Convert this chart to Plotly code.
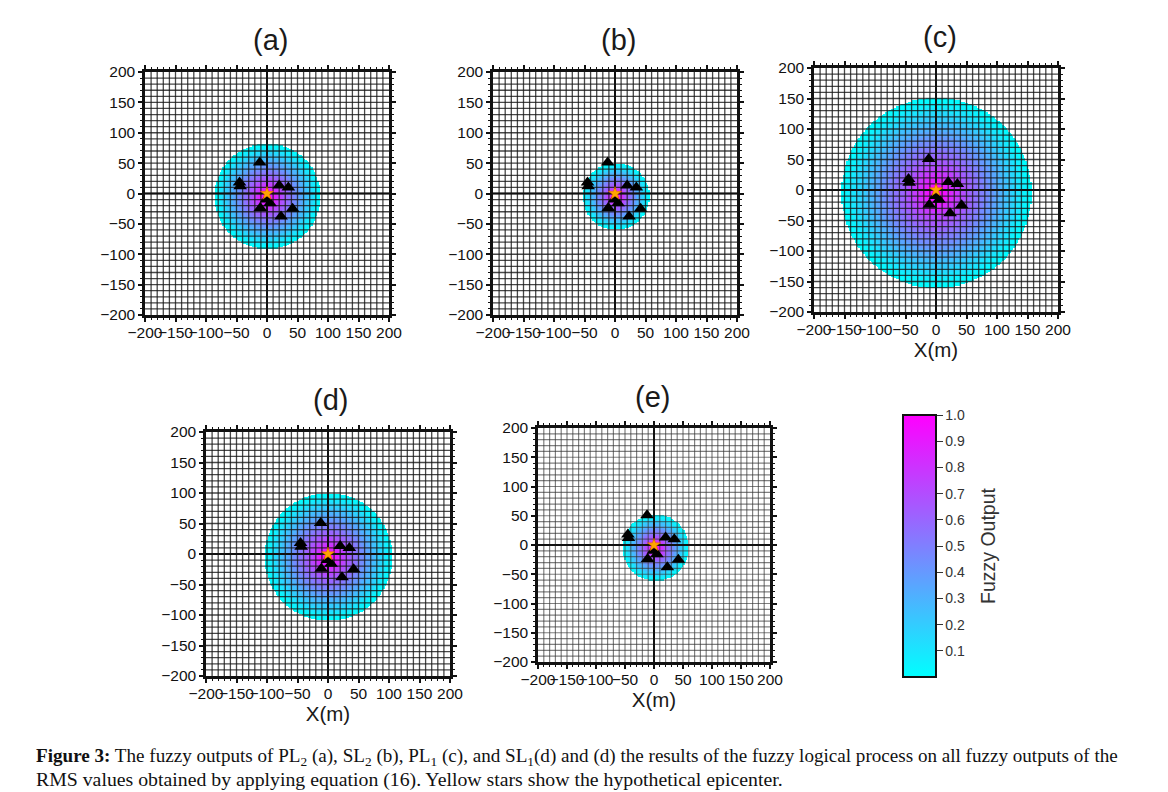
#!/usr/bin/env python3

import numpy as np
import plotly.graph_objects as go

panel_names = ["(a)", "(b)", "(c)", "(d)", "(e)"]

# stations, same in every panel
station_x = [-45, -44, -12, 20, 35, -11, -1, 5, 42, 23]
station_y = [18, 12, 51, 13, 10, -24, -10, -16, -25, -38]
epicenter_x = [0]
epicenter_y = [0]

# fuzzy patch read per panel: centre and radius in metres
patch_cx = [1, 2, 1, 1, 3]
patch_cy = [-5, -5, -5, -5, -5]
patch_r = [87, 55, 156, 105, 57]
# fuzzy value from the centre out to the rim, in equal radial bands
fuzzy_bands = [1.0, 0.95, 0.89, 0.83, 0.77, 0.71, 0.65, 0.60, 0.55, 0.50,
               0.45, 0.40, 0.35, 0.30, 0.25, 0.20, 0.15, 0.10, 0.05, 0.01]

major_ticks = [-200, -150, -100, -50, 0, 50, 100, 150, 200]
bar_ticks = [0.1, 0.2, 0.3, 0.4, 0.5, 0.6, 0.7, 0.8, 0.9, 1.0]
bar_labels = ["0.1", "0.2", "0.3", "0.4", "0.5", "0.6", "0.7", "0.8", "0.9", "1.0"]

caption_1 = ("<b>Figure 3:</b> The fuzzy outputs of PL<sub>2</sub> (a), SL<sub>2</sub> (b), "
             "PL<sub>1</sub> (c), and SL<sub>1</sub>(d) and (d) the results of the fuzzy logical "
             "process on all fuzzy outputs of the")
caption_2 = ("RMS values obtained by applying equation (16). Yellow stars show the "
             "hypothetical epicenter.")

# the page keeps an 8px body margin, so the figure is 8px smaller and shifted
PAGE = 8
W, H = 1168 - PAGE, 792 - PAGE
SANS = "Liberation Sans"
SERIF = "Liberation Serif"

# plot boxes in window pixels: left, right, top, bottom
boxes = [(145, 389, 72, 315), (493, 737, 72, 315), (814, 1058, 68, 312),
         (206, 450, 432, 676), (538, 770, 428, 662)]
title_pos = [(270, 40), (618, 40), (940, 37), (331, 400), (652, 397)]
grid_width = [1.3, 1.3, 1.3, 1.3, 1.2]
grid_color = ["rgba(20,20,20,0.78)"] * 4 + ["rgba(50,50,50,0.62)"]
has_xlabel = [False, False, True, True, True]

cell = np.arange(-200, 201, 2)
grid_at = np.arange(-190, 200, 10)


def px(x):
    return (x - PAGE) / W


def py(y):
    return 1 - (y - PAGE) / H


def grid_lines():
    xs, ys = [], []
    for g in grid_at:
        xs += [g, g, None, -200, 200, None]
        ys += [-200, 200, None, g, g, None]
    return xs, ys


def fuzzy_field(cx, cy, r):
    xx, yy = np.meshgrid(cell, cell)
    dist = np.hypot(xx - cx, yy - cy) / r
    idx = (dist * len(fuzzy_bands)).astype(int)
    z = np.full(xx.shape, np.nan)
    inside = idx < len(fuzzy_bands)
    z[inside] = np.array(fuzzy_bands)[idx[inside]]
    return z


def page_text(text, x, y, family, size, color, xanchor="center", angle=0):
    return dict(text=text, x=px(x), y=py(y), xref="paper", yref="paper", showarrow=False,
                xanchor=xanchor, yanchor="middle", textangle=angle,
                font=dict(family=family, size=size, color=color))


fig = go.Figure()
annotations = []
gx, gy = grid_lines()

for i, name in enumerate(panel_names):
    n = i + 1
    xref, yref = f"x{n}", f"y{n}"
    left, right, top, bottom = boxes[i]

    fig.add_trace(go.Heatmap(x=cell, y=cell, z=fuzzy_field(patch_cx[i], patch_cy[i], patch_r[i]),
                             coloraxis="coloraxis", xaxis=xref, yaxis=yref, hoverongaps=False))
    fig.add_trace(go.Scatter(x=gx, y=gy, mode="lines", xaxis=xref, yaxis=yref, hoverinfo="skip",
                             line=dict(color=grid_color[i], width=grid_width[i])))
    # the two heavy lines through the origin
    fig.add_trace(go.Scatter(x=[-200, 200, None, 0, 0], y=[0, 0, None, -200, 200], mode="lines",
                             xaxis=xref, yaxis=yref, hoverinfo="skip",
                             line=dict(color="#111111", width=2)))
    fig.add_trace(go.Scatter(x=station_x, y=station_y, mode="markers", xaxis=xref, yaxis=yref,
                             marker=dict(symbol="triangle-up", size=12, color="black")))
    fig.add_trace(go.Scatter(x=epicenter_x, y=epicenter_y, mode="markers", xaxis=xref, yaxis=yref,
                             marker=dict(symbol="star", size=10, color="#FFA500",
                                         line=dict(color="#E06000", width=0.5))))

    axis = dict(range=[-200, 200], tickmode="array", tickvals=major_ticks, ticks="outside",
                ticklen=4, tickwidth=1.5, tickcolor="#111111", showgrid=False, zeroline=False,
                showline=True, linecolor="#111111", linewidth=2.5, mirror="allticks",
                tickfont=dict(family=SANS, size=15.5, color="#111111"),
                minor=dict(dtick=10, ticks="outside", ticklen=2, tickwidth=1, tickcolor="#111111",
                           showgrid=False))
    xaxis = dict(axis, domain=[px(left), px(right)], anchor=yref, tickangle=0, automargin=False,
                 ticklabelstandoff=-2)
    if has_xlabel[i]:
        xaxis["title"] = dict(text="X(m)", font=dict(family=SANS, size=20.5, color="#1a1a1a"), standoff=3)
    yaxis = dict(axis, domain=[py(bottom), py(top)], anchor=xref, automargin=False)
    fig.update_layout(**{f"xaxis{n}": xaxis, f"yaxis{n}": yaxis})

    tx, ty = title_pos[i]
    annotations.append(page_text(name, tx, ty, SANS, 29, "#1a1a1a"))

annotations.append(page_text(caption_1, 34, 757, SERIF, 19.1, "#111111", xanchor="left"))
annotations.append(page_text(caption_2, 34, 779, SERIF, 19.8, "#111111", xanchor="left"))
annotations.append(page_text("Fuzzy Output", 988, 546, SANS, 19.5, "#333333", angle=-90))

fig.update_layout(
    width=W, height=H, margin=dict(l=0, r=0, t=0, b=0, autoexpand=False), showlegend=False,
    paper_bgcolor="white", plot_bgcolor="white", annotations=annotations,
    coloraxis=dict(
        cmin=0, cmax=1,
        colorscale=[[0, "#00FFFF"], [1, "#FF00FF"]],
        colorbar=dict(x=px(903), xanchor="left", y=py(415), yanchor="top",
                      thickness=33, thicknessmode="pixels", len=262, lenmode="pixels",
                      outlinecolor="#111111", outlinewidth=2, xpad=0, ypad=0,
                      tickmode="array", tickvals=bar_ticks, ticktext=bar_labels,
                      ticks="outside", ticklen=6, tickcolor="#333333",
                      tickfont=dict(family=SANS, size=14, color="#333333"))),
)

fig.write_html("out.html")
